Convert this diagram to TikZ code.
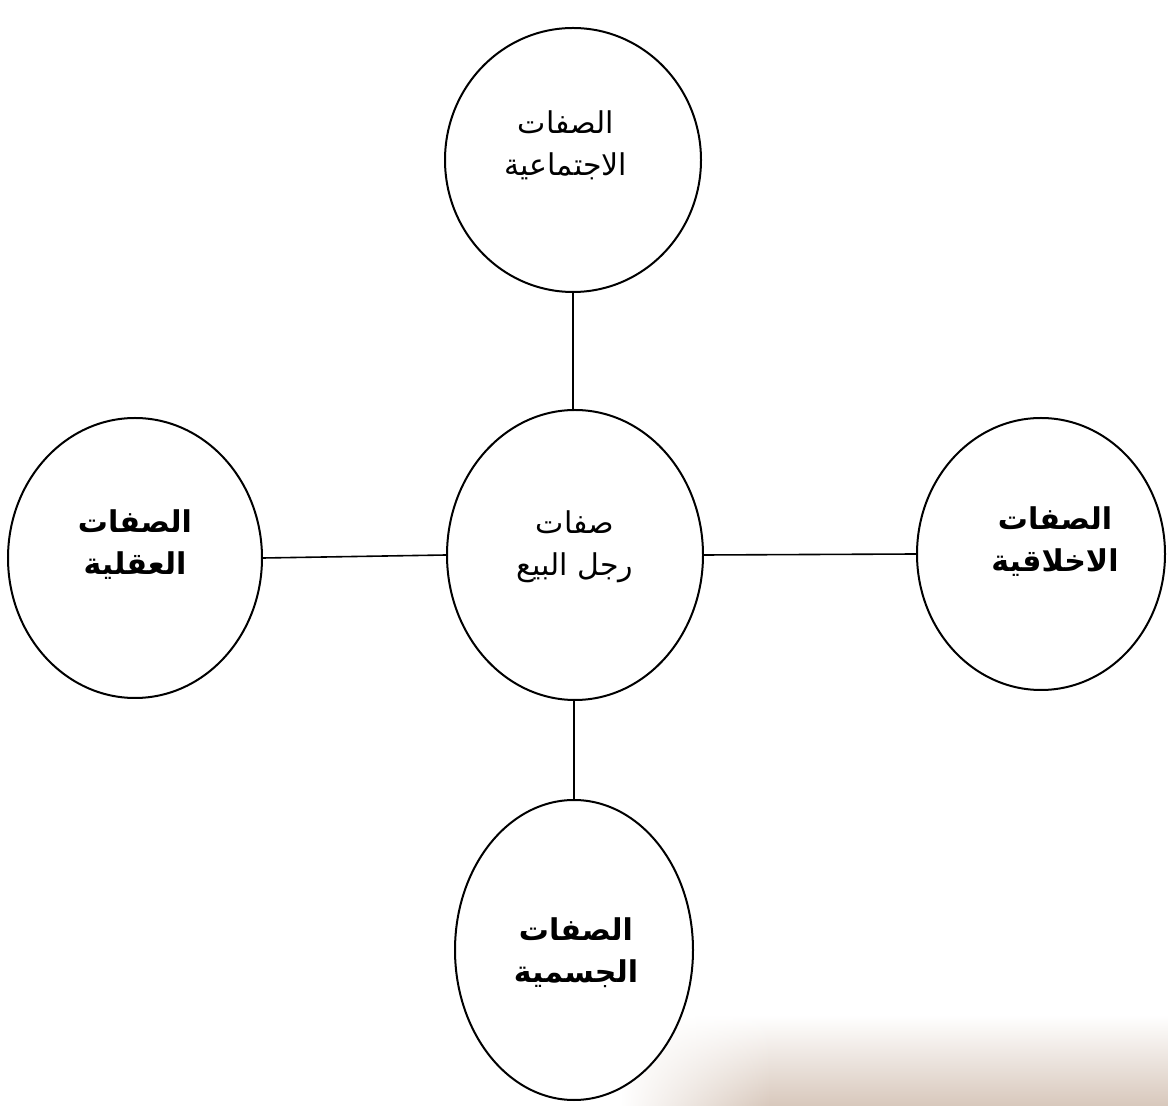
\documentclass[tikz,border=0pt]{standalone}
\usepackage{fontspec}
\setmainfont{DejaVu Sans}
\newfontfamily\arabicfont[Script=Arabic]{DejaVu Sans}
\TeXXeTstate=1
\usetikzlibrary{shapes.geometric,fadings}
\definecolor{stain}{RGB}{216,200,188}
\tikzfading[name=fadewl, left color=transparent!100, right color=transparent!0]
\begin{document}
\begin{tikzpicture}[x=0.5pt,y=-0.5pt,
  circ/.style={draw, line width=1pt, ellipse, inner sep=0pt, fill=white},
  lab/.style={align=center, inner sep=0pt, font=\arabicfont\fontsize{15}{21}\selectfont},
  blab/.style={lab, font=\arabicfont\bfseries\fontsize{15}{21}\selectfont},
  link/.style={line width=0.8pt}]
\useasboundingbox (0,0) rectangle (1168,1106);
\shade[top color=white, middle color=stain!80, bottom color=stain] (770,1015) rectangle (1168,1106);
\shade[top color=white, middle color=stain!80, bottom color=stain, path fading=fadewl] (620,1015) rectangle (770,1106);
\node[circ, minimum width=128pt, minimum height=132pt] (top) at (573,160) {};
\node[circ, minimum width=128pt, minimum height=145pt] (mid) at (575,555) {};
\node[circ, minimum width=127pt, minimum height=140pt] (left) at (135,558) {};
\node[circ, minimum width=124pt, minimum height=136pt] (right) at (1041,554) {};
\node[circ, minimum width=119pt, minimum height=150pt] (bot) at (574,950) {};
\node[lab] (topt) at (566,145) {\beginR الصفات\endR\\\beginR الاجتماعية\endR};
\node[lab] (midt) at (575,547) {\beginR صفات\endR\\\beginR رجل البيع\endR};
\node[blab] (leftt) at (135,545) {\beginR الصفات\endR\\\beginR العقلية\endR};
\node[blab] (rightt) at (1055,542) {\beginR الصفات\endR\\\beginR الاخلاقية\endR};
\node[blab] (bott) at (576,953) {\beginR الصفات\endR\\\beginR الجسمية\endR};
\draw[link] (top.south) -- (top.south |- mid.north);
\draw[link] (left.east) -- (mid.west);
\draw[link] (mid.east) -- (right.west);
\draw[link] (bot.north |- mid.south) -- (bot.north);
\end{tikzpicture}
\end{document}
